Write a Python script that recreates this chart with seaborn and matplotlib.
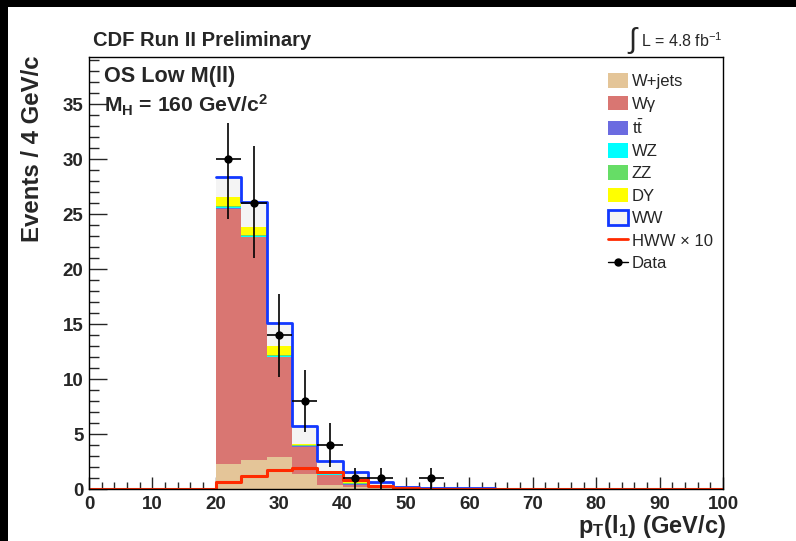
import numpy as np
import pandas as pd
import matplotlib
matplotlib.use("Agg")
import matplotlib.pyplot as plt
import seaborn as sns
from matplotlib.patches import Patch, Rectangle
from matplotlib.lines import Line2D

# ---------------- data ----------------
bin_edges = [0, 4, 8, 12, 16, 20, 24, 28, 32, 36, 40, 44, 48, 52, 56, 60, 64,
             68, 72, 76, 80, 84, 88, 92, 96, 100]
# populated bins: 20-24 ... 60-64 (centres)
pt_centers = [22, 26, 30, 34, 38, 42, 46, 50, 54, 58, 62]

wjets  = [2.30, 2.60, 2.90, 1.40, 0.36, 0.15, 0.05, 0.02, 0.02, 0.01, 0.01]
wgamma = [23.20, 20.30, 9.10, 2.45, 0.91, 0.25, 0.08, 0.03, 0.02, 0.01, 0.01]
ttbar  = [0.02, 0.02, 0.02, 0.02, 0.02, 0.02, 0.01, 0.01, 0.01, 0.01, 0.00]
wz     = [0.10, 0.10, 0.10, 0.08, 0.07, 0.05, 0.03, 0.02, 0.01, 0.01, 0.01]
zz     = [0.10, 0.10, 0.10, 0.07, 0.06, 0.04, 0.02, 0.01, 0.01, 0.01, 0.01]
dy     = [0.88, 0.68, 0.78, 0.10, 0.16, 0.22, 0.03, 0.01, 0.01, 0.00, 0.00]
ww     = [1.80, 2.30, 2.10, 1.64, 1.00, 0.85, 0.38, 0.12, 0.05, 0.06, 0.07]
hww_x10 = [0.66, 1.20, 1.75, 1.94, 1.58, 0.82, 0.30, 0.05, 0.04, 0.00, 0.00]

data    = [30, 26, 14, 8, 4, 1, 1, 0, 1, 0, 0]
data_lo = [24.6, 21.0, 10.2, 5.15, 2.0, 0.0, 0.0, 0.0, 0.0, 0.0, 0.0]
data_hi = [33.3, 31.2, 17.7, 10.8, 6.0, 1.9, 1.9, 0.0, 1.95, 0.0, 0.0]

x_ticks = [0, 10, 20, 30, 40, 50, 60, 70, 80, 90, 100]
y_ticks = [0, 5, 10, 15, 20, 25, 30, 35]

# ---------------- style ----------------
sns.set_style("ticks")
plt.rcParams['font.family'] = ['Liberation Sans', 'DejaVu Sans']
plt.rcParams['mathtext.fontset'] = 'custom'
plt.rcParams['mathtext.rm'] = 'Liberation Sans'
plt.rcParams['mathtext.it'] = 'Liberation Sans:italic'
plt.rcParams['mathtext.bf'] = 'Liberation Sans:bold'

colors = {
    "W+jets": "#e4c598",
    "Wgamma": "#d97672",
    "ttbar": "#6b6be0",
    "WZ": "#00ffff",
    "ZZ": "#66dd66",
    "DY": "#ffff00",
    "WW": "#f4f4f4",
}
ww_edge = "#1238ff"
hww_color = "#ff2a00"

fig = plt.figure(figsize=(7.96, 5.41), dpi=100)
ax = fig.add_axes([89 / 796, 1 - 489 / 541, 634 / 796, 432 / 541])

df = pd.DataFrame({
    "pt": pt_centers, "W+jets": wjets, "Wgamma": wgamma, "ttbar": ttbar,
    "WZ": wz, "ZZ": zz, "DY": dy, "WW": ww, "HWW": hww_x10, "data": data,
    "lo": data_lo, "hi": data_hi,
})
stack_order = ["W+jets", "Wgamma", "ttbar", "WZ", "ZZ", "DY", "WW"]
cum = df[stack_order].cumsum(axis=1)

# draw cumulative layers from the top down
for name in reversed(stack_order):
    sns.histplot(x=df["pt"], weights=cum[name], bins=bin_edges, element="step",
                 fill=True, color=colors[name], alpha=1, linewidth=0, ax=ax)

# WW outline on top
ww_edges = [e for e in bin_edges if 20 <= e <= 64]
sns.histplot(x=df["pt"], weights=cum["WW"], bins=ww_edges, element="step",
             fill=False, color=ww_edge, linewidth=2, ax=ax)

# HWW x 10 line over the full range
full_centers = [e + 2 for e in bin_edges[:-1]]
hww_full = [0.0] * len(full_centers)
for c, v in zip(pt_centers, hww_x10):
    hww_full[full_centers.index(c)] = v
sns.histplot(x=full_centers, weights=hww_full, bins=bin_edges, element="step",
             fill=False, color=hww_color, linewidth=2.2, ax=ax)

# data points
dd = df[df["data"] > 0]
ax.errorbar(dd["pt"], dd["data"],
            yerr=[dd["data"] - dd["lo"], dd["hi"] - dd["data"]],
            xerr=2, fmt="none", ecolor="black", elinewidth=1.2, capsize=0, zorder=5)
sns.scatterplot(x=dd["pt"], y=dd["data"], color="black", s=36, edgecolor="black",
                linewidth=0, ax=ax, zorder=6)

# axes
ax.set_xlim(0, 100)
ax.set_ylim(0, 39.3)
ax.set_xticks(x_ticks)
ax.set_yticks(y_ticks)
ax.set_xticks(np.arange(0, 101, 2), minor=True)
ax.set_yticks(np.arange(0, 39.3, 1), minor=True)
ax.tick_params(axis="y", which="major", direction="in", length=13, width=1,
               labelsize=13.5, pad=4, right=False)
ax.tick_params(axis="y", which="minor", direction="in", length=7, width=1, right=False)
ax.tick_params(axis="x", which="major", direction="in", length=9, width=1,
               labelsize=13.5, pad=5, top=False)
ax.tick_params(axis="x", which="minor", direction="in", length=5, width=1, top=False)
for lbl in ax.get_xticklabels() + ax.get_yticklabels():
    lbl.set_fontweight("bold")
for sp in ax.spines.values():
    sp.set_visible(True)
    sp.set_color("black")
    sp.set_linewidth(1)

ax.set_ylabel("Events / 4 GeV/c", fontsize=17.3, fontweight="bold", loc="top")
ax.yaxis.set_label_coords(-0.071, 1.003)
ax.set_xlabel(r"p$_{\mathbf{T}}$(l$_{\mathbf{1}}$) (GeV/c)", fontsize=17,
              fontweight="bold", loc="right")
ax.xaxis.set_label_coords(1.005, -0.056)

ax.text(0.0237, 0.954, "OS Low M(ll)", transform=ax.transAxes, fontsize=15.6,
        fontweight="bold", ha="left", va="center")
ax.text(0.0237, 0.889, r"M$_{\mathbf{H}}$ = 160 GeV/c$^{\mathbf{2}}$",
        transform=ax.transAxes, fontsize=15.2, fontweight="bold", ha="left", va="center")

fig.text(93 / 796, 1 - 40 / 541, "CDF Run II Preliminary", fontsize=14.5,
         fontweight="bold", ha="left", va="center")
fig.text(627 / 796, 1 - 40 / 541, r"$\int$", fontsize=21, ha="left", va="center")
fig.text(641 / 796, 1 - 41 / 541, r"L = 4.8 fb$^{-1}$", fontsize=11.5,
         ha="left", va="center")

# legend
handles = [
    Patch(facecolor=colors["W+jets"], edgecolor="none"),
    Patch(facecolor=colors["Wgamma"], edgecolor="none"),
    Patch(facecolor=colors["ttbar"], edgecolor="none"),
    Patch(facecolor=colors["WZ"], edgecolor="none"),
    Patch(facecolor=colors["ZZ"], edgecolor="none"),
    Patch(facecolor=colors["DY"], edgecolor="none"),
    Patch(facecolor=colors["WW"], edgecolor=ww_edge, linewidth=2),
    Line2D([], [], color=hww_color, linewidth=2),
    Line2D([], [], color="black", marker="o", markersize=5, linewidth=1),
]
labels = ["W+jets", "W\u03b3", r"t$\bar{\mathrm{t}}$", "WZ", "ZZ", "DY", "WW",
          "HWW \u00d7 10", "Data"]
ax.legend(handles, labels, loc="upper left", bbox_to_anchor=(0.8186, 0.962),
          frameon=False, fontsize=12, handlelength=1.2, handleheight=0.96,
          labelspacing=0.39, handletextpad=0.24, borderpad=0, borderaxespad=0)

# black frame bands at top and left (as in the reference image)
fig.patches.append(Rectangle((0, 1 - 7 / 541), 1, 7 / 541, transform=fig.transFigure,
                             facecolor="black", edgecolor="none", zorder=10))
fig.patches.append(Rectangle((0, 0), 8 / 796, 1, transform=fig.transFigure,
                             facecolor="black", edgecolor="none", zorder=10))

fig.savefig("out.png", dpi=100)
